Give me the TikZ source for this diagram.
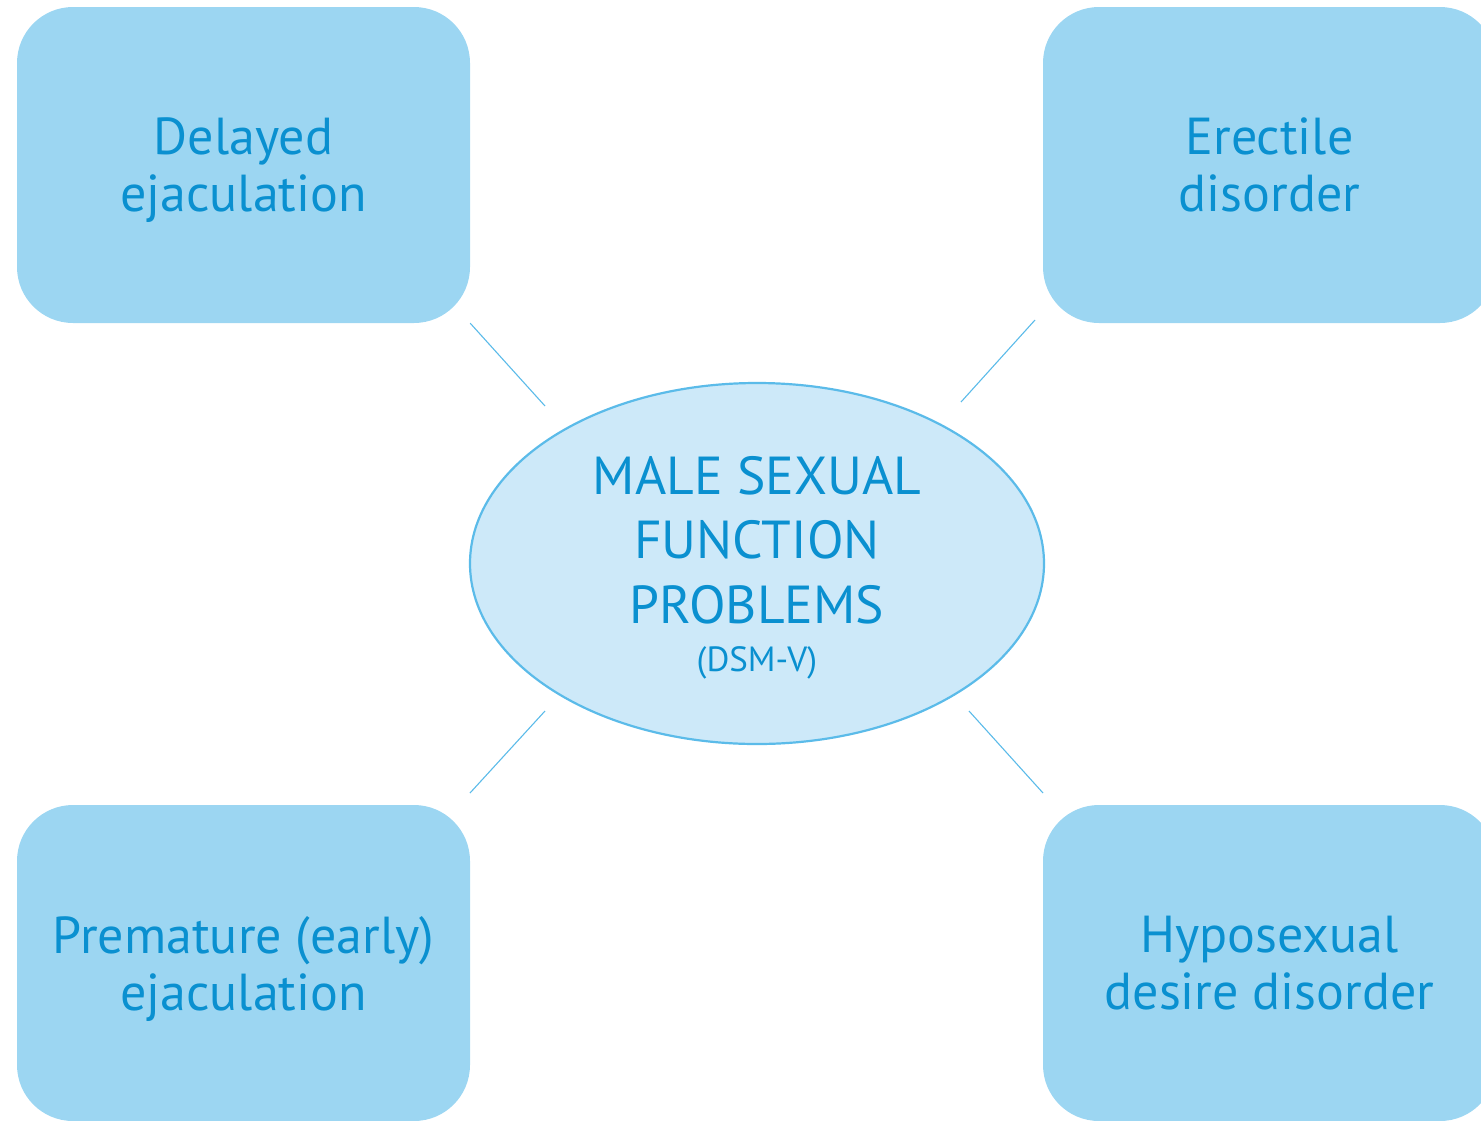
\documentclass[tikz,border=0pt]{standalone}
\usepackage{fontspec}
\setmainfont{PT Sans}
\usetikzlibrary{shapes.geometric}
\definecolor{boxfill}{HTML}{9CD6F2}
\definecolor{txtblue}{HTML}{0A90D0}
\definecolor{ellfill}{HTML}{CDE9F9}
\definecolor{linkblue}{HTML}{5BBBE9}
\begin{document}
\begin{tikzpicture}[x=1pt,y=-1pt,
  card/.style={fill=boxfill, rounded corners=56pt, minimum width=453pt, minimum height=316pt,
    inner sep=0pt, text=txtblue, align=center, text depth=0pt,
    font=\fontsize{52}{57}\selectfont},
  hub/.style={ellipse, fill=ellfill, draw=linkblue, line width=2.2pt, minimum width=574pt,
    minimum height=361pt, inner sep=0pt, text=txtblue, align=center,
    font=\fontsize{53.5}{64.5}\selectfont},
  link/.style={draw=linkblue, line width=1.1pt}]
\useasboundingbox (0,0) rectangle (1481,1120);
\begin{scope}
\clip (0,0) rectangle (1481,1120);
\node[card] (dl) at (243.5,165) {Delayed\\ejaculation};
\node[card] (ed) at (1269.5,165) {Erectile\\disorder};
\node[card] (pe) at (243.5,963) {Premature (early)\\ejaculation};
\node[card] (hd) at (1269.5,963) {Hyposexual\\desire disorder};
\end{scope}
\node[hub, text depth=0pt] (c) at (757,563.5) {MALE SEXUAL\\FUNCTION\\PROBLEMS\\[-16.5pt]{\fontsize{35}{40}\selectfont (DSM-V)}};
% free ends of the spokes
\coordinate (a1) at (545,406);
\coordinate (a2) at (961,402);
\coordinate (a3) at (545,711);
\coordinate (a4) at (969,711);
\coordinate (b2) at (1035,320);
\coordinate (b4) at (1043,793);
\coordinate (b3) at (470,793);
\draw[link] (dl.south east) -- (a1);
\draw[link] (b2) -- (a2);
\draw[link] (b3) -- (a3);
\draw[link] (b4) -- (a4);
\end{tikzpicture}
\end{document}
